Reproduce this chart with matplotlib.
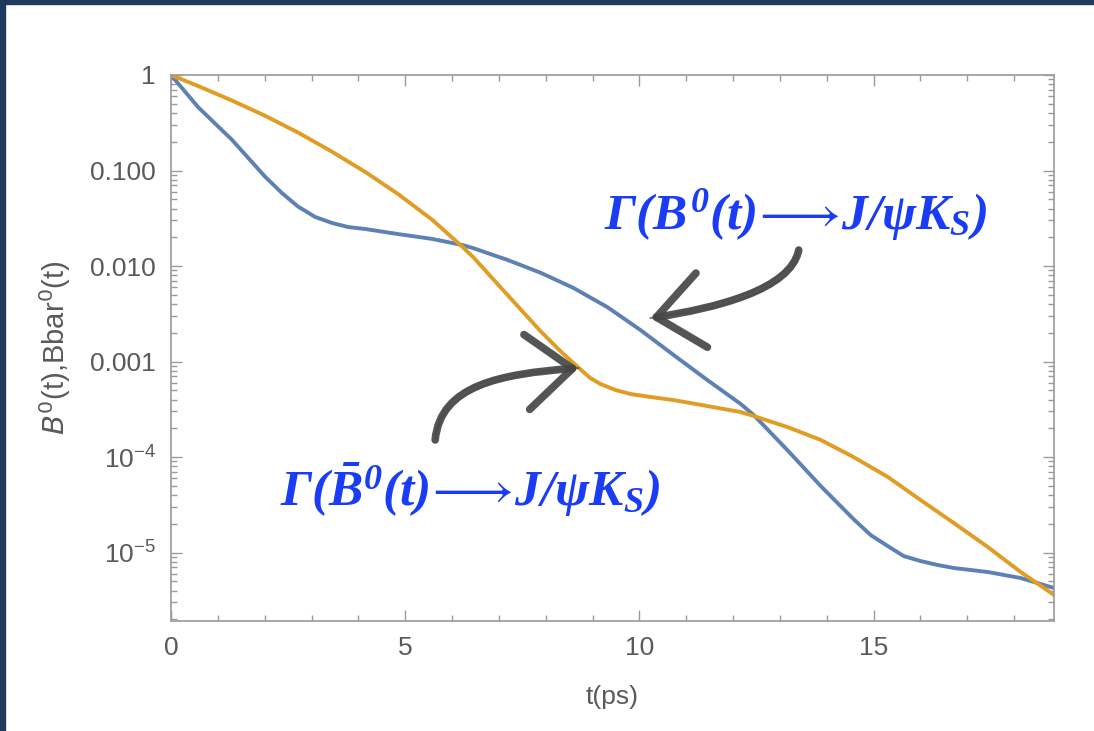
import matplotlib
matplotlib.use("Agg")
import matplotlib.pyplot as plt
from matplotlib.patches import Rectangle, FancyArrowPatch
from matplotlib.path import Path
from matplotlib.ticker import LogLocator, MultipleLocator, NullFormatter

# decay rates (t in ps)
blue_t = [0, 0.58, 1.30, 2.01, 2.37, 2.71, 3.08, 3.44, 3.78, 4.15, 4.85,
          5.58, 6.22, 6.45, 7.18, 7.89, 8.59, 9.32, 10.02, 10.73, 11.45,
          12.16, 12.44, 13.16, 13.87, 14.57, 14.94, 15.30, 15.64, 16.00,
          16.37, 16.71, 17.44, 18.14, 18.85]
blue_val = [1.0, 0.46, 0.21, 0.086, 0.058, 0.042, 0.0326, 0.0282, 0.0256,
            0.0244, 0.0216, 0.0192, 0.0166, 0.0154, 0.0116, 0.0085, 0.0059,
            0.0037, 0.00214, 0.00117, 0.00064, 0.00036, 0.000275, 0.000118,
            4.97e-5, 2.24e-5, 1.52e-5, 1.17e-5, 9.19e-6, 8.15e-6, 7.4e-6,
            6.89e-6, 6.25e-6, 5.41e-6, 4.25e-6]

orange_t = [0, 0.58, 1.30, 2.01, 2.71, 3.44, 4.15, 4.85, 5.58, 6.22, 6.45,
            7.18, 7.88, 8.31, 8.59, 8.78, 8.95, 9.17, 9.49, 9.81, 10.24,
            10.73, 11.45, 12.16, 12.44, 13.16, 13.87, 14.57, 15.30, 16.00,
            16.71, 17.44, 18.14, 18.85]
orange_val = [1.0, 0.766, 0.541, 0.374, 0.250, 0.157, 0.0964, 0.0566,
              0.0304, 0.0159, 0.0124, 0.0050, 0.0021, 0.00129, 0.000964,
              0.000796, 0.000672, 0.000581, 0.000503, 0.000457, 0.000425,
              0.000395, 0.000342, 0.000296, 0.000269, 0.000206, 0.000151,
              0.000100, 6.2e-5, 3.55e-5, 2.04e-5, 1.14e-5, 6.25e-6, 3.6e-6]

xticks = [0, 5, 10, 15]
yticks = [1, 0.1, 0.01, 0.001, 1e-4, 1e-5]
ytick_labels = ["1", "0.100", "0.010", "0.001",
                r"$\mathregular{10^{-4}}$", r"$\mathregular{10^{-5}}$"]

label_b0 = r"$\Gamma(B^0(t)\!{\longrightarrow}\!J/\psi K_S)$"
label_b0bar = r"$\Gamma(\bar{B}^0(t)\!{\longrightarrow}\!J/\psi K_S)$"

plt.rcParams["font.family"] = ["Liberation Sans", "DejaVu Sans"]
plt.rcParams["mathtext.rm"] = "Liberation Serif:bold:italic"
plt.rcParams["mathtext.it"] = "Liberation Serif:bold:italic"
plt.rcParams["mathtext.bf"] = "Liberation Serif:bold:italic"
plt.rcParams["mathtext.fallback"] = "stix"

frame_gray = "#9a9a9a"
text_gray = "#5a5a5a"
blue = "#5e81b5"
orange = "#e19c24"
ink = "#1a3cf5"
pencil = "#464646"

fig = plt.figure(figsize=(10.94, 7.31), dpi=100)
fig.patches.append(Rectangle((0, 0), 5 / 1094, 1, transform=fig.transFigure,
                             color="#1f3a5c", zorder=10))
fig.patches.append(Rectangle((0, 1 - 4 / 731), 1, 4 / 731,
                             transform=fig.transFigure, color="#1f3a5c",
                             zorder=10))

ax = fig.add_axes([171 / 1094, 1 - 621 / 731, (1054 - 171) / 1094,
                   (621 - 75) / 731])
ax.plot(blue_t, blue_val, color=blue, lw=2.8, solid_joinstyle="round")
ax.plot(orange_t, orange_val, color=orange, lw=2.8, solid_joinstyle="round")

ax.set_yscale("log")
ax.set_xlim(0, 18.85)
ax.set_ylim(1.92e-6, 1.0)

ax.set_xticks(xticks)
ax.xaxis.set_minor_locator(MultipleLocator(1))
ax.set_yticks(yticks, ytick_labels)
ax.yaxis.set_minor_locator(LogLocator(base=10, subs=range(2, 10)))
ax.yaxis.set_minor_formatter(NullFormatter())

ax.tick_params(which="both", direction="in", top=True, right=True,
               color=frame_gray, labelcolor=text_gray, labelsize=19, width=1)
ax.tick_params(which="major", length=8, pad=11)
ax.tick_params(which="minor", length=4)
for s in ax.spines.values():
    s.set_color(frame_gray)
    s.set_linewidth(1.2)

ax.set_xlabel("t(ps)", fontsize=19, color=text_gray, labelpad=18)
ax.set_ylabel(r"$B^{0}$(t),Bbar$^{0}$(t)", fontsize=21, color=text_gray,
              labelpad=12, math_fontfamily="dejavusans")

# formula labels
ax.text(13.33, 0.034, label_b0, color=ink, fontsize=37, ha="center",
        va="center", math_fontfamily="custom")
ax.text(6.39, 4.5e-5, label_b0bar, color=ink, fontsize=37, ha="center",
        va="center", math_fontfamily="custom")


def brush_arrow(pts):
    # pts: tail, two control points, tip (cubic Bezier in data coords)
    codes = [Path.MOVETO, Path.CURVE4, Path.CURVE4, Path.CURVE4]
    style = "->,head_length=0.33,head_width=0.27"
    ax.add_patch(FancyArrowPatch(path=Path(pts, codes), arrowstyle=style,
                                 color=pencil, lw=5.5, mutation_scale=100,
                                 capstyle="round", alpha=0.92, zorder=5))
    # lighter streaks along the stroke
    for dy in (1.06, 0.94):
        shifted = [(x, y * dy) for x, y in pts[:3]] + [pts[3]]
        ax.add_patch(FancyArrowPatch(path=Path(shifted, codes),
                                     arrowstyle="-", color=pencil, lw=1.4,
                                     alpha=0.45, zorder=5))


brush_arrow([(13.40, 0.0147), (13.23, 0.00561), (11.62, 0.00363),
             (10.235, 0.00285)])
brush_arrow([(5.64, 0.000151), (5.75, 0.000567), (7.03, 0.00074),
             (8.70, 0.000855)])

fig.savefig("out.png", dpi=100)
